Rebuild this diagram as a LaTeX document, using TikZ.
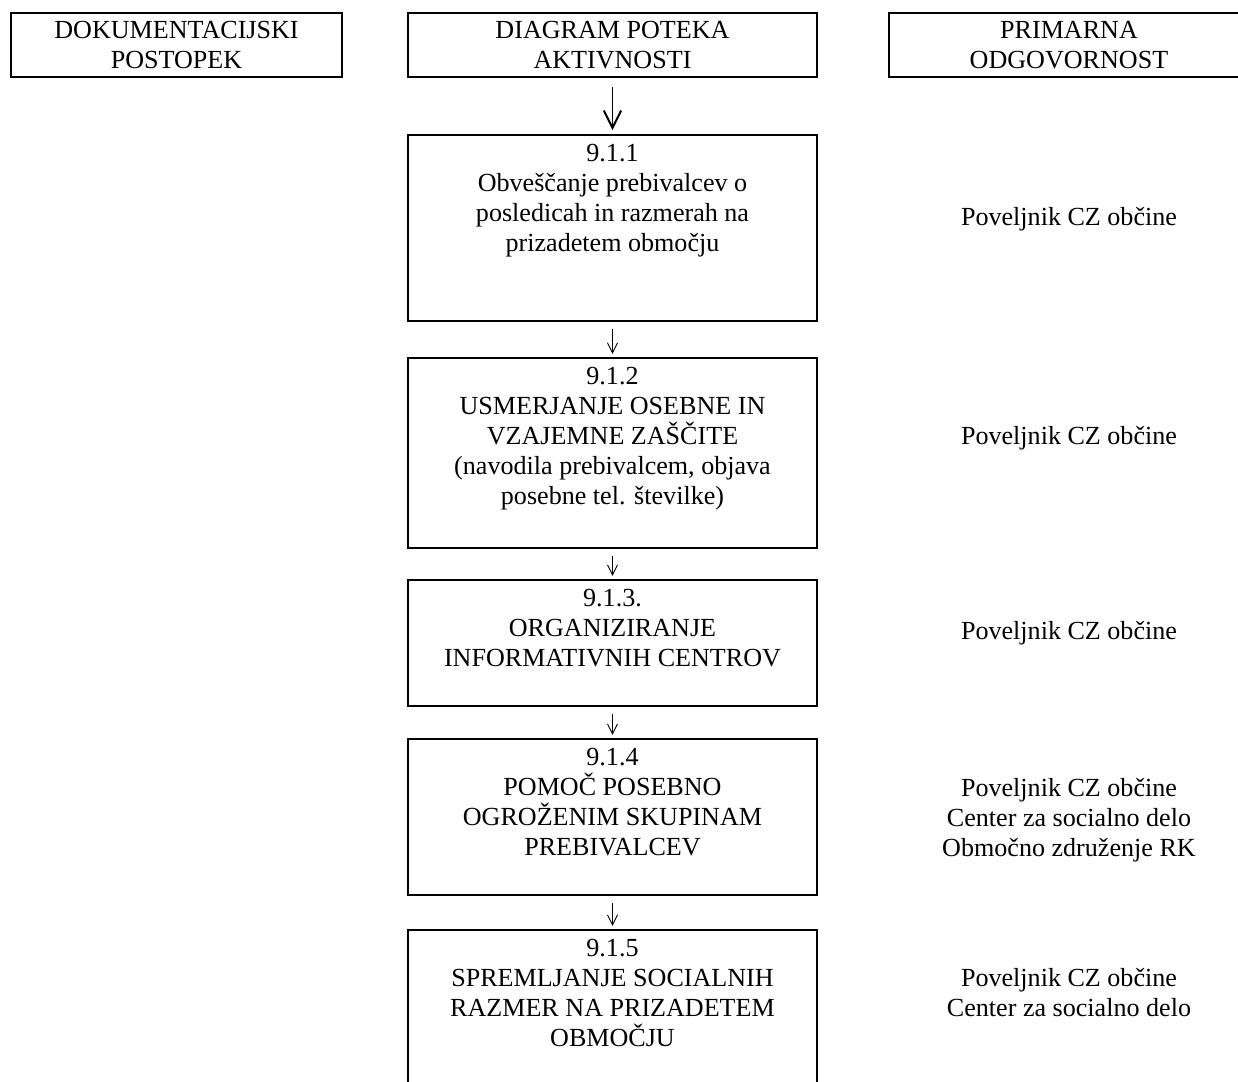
\documentclass[tikz,border=0pt]{standalone}
\usepackage{fontspec}
\setmainfont{Liberation Serif}
\usetikzlibrary{arrows.meta}

\begin{document}
\begin{tikzpicture}[x=0.46pt,y=-0.46pt,font=\fontsize{12}{13.8}\selectfont]
\clip (0,0) rectangle (1238,1081);

% column heads
\begin{scope}[every node/.style={draw,line width=0.9pt,align=center,inner sep=0pt,minimum height=29.4pt}]
    \node[minimum width=152.3pt] (H1) at (176.5,45) {DOKUMENTACIJSKI\\POSTOPEK};
    \node[minimum width=188.1pt] (H2) at (612.5,45) {DIAGRAM POTEKA\\AKTIVNOSTI};
    \node[minimum width=165.6pt] (H3) at (1069,45) {PRIMARNA\\ODGOVORNOST};
\end{scope}

% activity boxes
\begin{scope}[every node/.style={draw,line width=0.9pt,align=center,anchor=north,
              minimum width=188.1pt,inner xsep=2pt,inner ysep=4.4pt}]
    \node[text depth=27.3pt] (A) at (612.5,134) {9.1.1\\Obveščanje prebivalcev o\\posledicah in razmerah na\\prizadetem območju};
    \node[text depth=15.4pt] (B) at (612.5,357) {9.1.2\\USMERJANJE OSEBNE IN\\VZAJEMNE ZAŠČITE\\(navodila prebivalcem, objava\\posebne tel. številke)};
    \node[text depth=13.5pt] (C) at (612.5,579) {9.1.3.\\ORGANIZIRANJE\\INFORMATIVNIH CENTROV};
    \node[text depth=13.5pt] (D) at (612.5,738) {9.1.4\\POMOČ POSEBNO\\OGROŽENIM SKUPINAM\\PREBIVALCEV};
    \node[text depth=23.2pt] (E) at (612.5,929) {9.1.5\\SPREMLJANJE SOCIALNIH\\RAZMER NA PRIZADETEM\\OBMOČJU};
\end{scope}

% responsibility
\begin{scope}[every node/.style={align=center,anchor=north,inner sep=0pt}]
    \node (RA) at (1069,206.6) {Poveljnik CZ občine};
    \node (RB) at (1069,425.6) {Poveljnik CZ občine};
    \node (RC) at (1069,620.6) {Poveljnik CZ občine};
    \node (RD) at (1069,777.6) {Poveljnik CZ občine\\Center za socialno delo\\Območno združenje RK};
    \node (RE) at (1069,967.6) {Poveljnik CZ občine\\Center za socialno delo};
\end{scope}

\begin{scope}[every edge/.style={draw,line width=0.45pt,shorten <=3.2pt,shorten >=1.4pt,
              -{Straight Barb[length=4.6pt,width=4.6pt]}}]
    \path (H2) edge[line width=0.9pt,shorten <=4pt,shorten >=1.8pt,
                    -{Straight Barb[length=8pt,width=8pt]}] (A);
    \path (A) edge (B);
    \path (B) edge (C);
    \path (C) edge (D);
    \path (D) edge (E);
\end{scope}
\end{tikzpicture}
\end{document}
